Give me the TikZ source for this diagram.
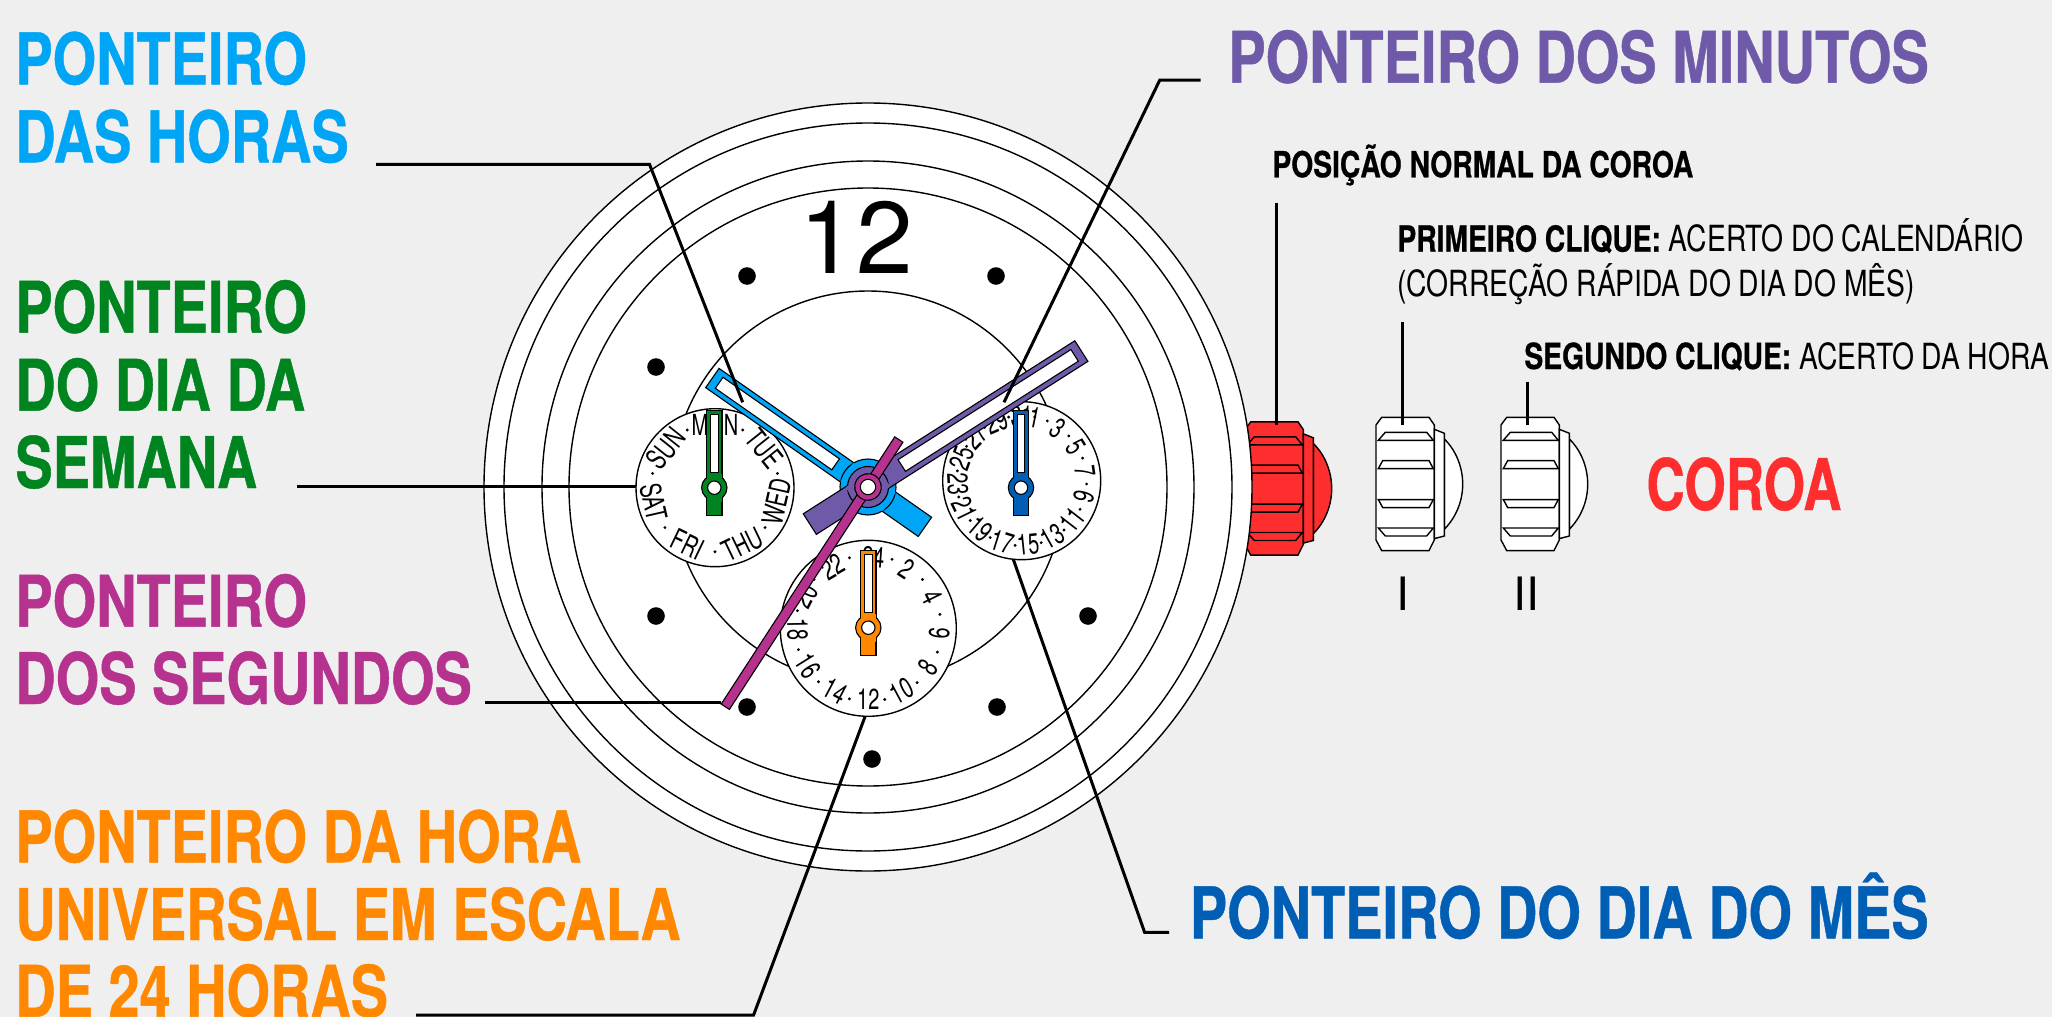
\documentclass[tikz,border=0pt]{standalone}
\usepackage{fontspec}
\setmainfont{TeX Gyre Heros}
\newfontfamily\narrowfont[FakeStretch=0.785]{TeX Gyre Heros}
\newfontfamily\titlefont[FakeStretch=0.785,FakeBold=0.6]{TeX Gyre Heros}
\newfontfamily\coroafont[FakeStretch=0.745,FakeBold=0.6]{TeX Gyre Heros}
\newfontfamily\dialfont[FakeStretch=0.69]{TeX Gyre Heros}
\usetikzlibrary{calc}
\definecolor{paper}{HTML}{EFEFEF}
\definecolor{hourblue}{HTML}{00A5F5}
\definecolor{minpurple}{HTML}{6E5AA8}
\definecolor{secmagenta}{HTML}{B5338F}
\definecolor{weekgreen}{HTML}{00841F}
\definecolor{utcorange}{HTML}{FF8800}
\definecolor{monthblue}{HTML}{005FB5}
\definecolor{crownred}{HTML}{FF2E2E}
\tikzset{
    thinline/.style={
    draw=black,line width=0.7pt
    },
    handline/.style={
    draw=black,line width=0.55pt
    },
    leader/.style={
    draw=black,line width=1.5pt
    },
    title/.style={
    inner sep=0pt,anchor=base west,font=\titlefont\bfseries\fontsize{35.6}{35.6}\selectfont
    },
    smalltext/.style={
    inner sep=0pt,anchor=base west,font=\narrowfont\fontsize{18}{18}\selectfont
    },
    dialnum/.style={
    inner sep=0pt,font=\dialfont\fontsize{14.5}{14.5}\selectfont
    },
    pics/crown/.style={
    code={
      \filldraw[thinline,fill=#1] (5.7,0) -- (53,0) -- (58.3,7.7) -- (58.3,122.7) -- (53,133.3)
         -- (5.7,133.3) -- (0,122.7) -- (0,7.7) -- cycle;
      \filldraw[thinline,fill=#1] (68.3,21.7) .. controls (80,33) and (86.7,50) .. (86.7,66.8)
         .. controls (86.7,84) and (80,100) .. (68.3,112) -- cycle;
      \filldraw[thinline,fill=#1] (58.3,12) -- (68.3,16) -- (68.3,118.7) -- (58.3,121.3) -- cycle;
      \draw[thinline] (2.3,23) -- (9.3,15) -- (50.7,15) -- (57.3,23) -- cycle;
      \draw[thinline] (2.3,51.3) -- (6.7,43.3) -- (53,43.3) -- (57.3,51.3) -- cycle;
      \draw[thinline] (2.3,82.3) -- (57.3,82.3) -- (53,90.3) -- (6.7,90.3) -- cycle;
      \draw[thinline] (2.3,110.7) -- (57.3,110.7) -- (50.7,118.7) -- (9.3,118.7) -- cycle;
    }
    },
}
% angle, node name, radius, text: upper half reads outwards, lower half inwards
\newcommand{\dialtext}[4]{
  \pgfmathsetmacro{\rot}{(#1>=90 && #1<270) ? 180-#1 : -#1}
  \node[dialnum,rotate=\rot] (#2) at ({#3*sin(#1)},{-#3*cos(#1)}) {#4};
}
\newcommand{\dialdot}[2]{
  \fill ({#2*sin(#1)},{-#2*cos(#1)}) circle (1.6);
}
\newcommand{\subhand}[2]{
  \begin{scope}[shift={#1}]
    \filldraw[handline,fill=#2] (-7.7,-77.4) rectangle (7.7,28);
    \filldraw[handline,fill=#2] (0,0) circle (12.7);
    \fill[#2] (-7.2,-14) rectangle (7.2,14);
    \filldraw[handline,fill=white] (-3.8,-73.3) rectangle (3.8,-15.3);
    \filldraw[handline,fill=white] (0,0) circle (6.7);
  \end{scope}
}
\begin{document}
\begin{tikzpicture}[x=0.5pt,y=-0.5pt]
  \useasboundingbox (0,0) rectangle (2052,1017);
  \fill[paper] (0,0) rectangle (2052,1017);

  % crowns
  \pic (crownnormal) at (1245,421.8) {crown=crownred};
  \pic (crownone) at (1376,417.3) {crown=white};
  \pic (crowntwo) at (1501,417.3) {crown=white};

  % case and dial
  \foreach \r in {384,364,326,299,196}
    \filldraw[thinline,fill=white] (868,487) circle (\r);
  \foreach \p in {(747,276),(996,276),(656,367),(656,616),(747,707),(997,707),(1088,616),(872,759)}
    \fill \p circle (8.8);
  \node[inner sep=0pt,anchor=base,font=\fontsize{51}{51}\selectfont] (twelve) at (856,273) {12};

  % week dial
  \filldraw[thinline,fill=white] (715,487.7) circle (79);
  \begin{scope}[shift={(715,487.7)}]
    \foreach \i/\d in {0/MON,1/TUE,2/WED,3/THU,4/FRI,5/SAT,6/SUN}{
      \pgfmathsetmacro{\a}{\i*360/7}
      \dialtext{\a}{day\d}{63}{\d}
      \dialdot{\a+180/7}{64}
    }
  \end{scope}

  % month dial
  \filldraw[thinline,fill=white] (1021.7,480.7) circle (79);
  \begin{scope}[shift={(1021.7,480.7)}]
    \foreach \n in {1,3,...,31}{
      \pgfmathsetmacro{\a}{mod(\n*360/31,360)}
      \dialtext{\a}{month\n}{64}{\n}
      \dialdot{(\n+1)*360/31}{65}
    }
  \end{scope}

  % 24 hour dial
  \filldraw[thinline,fill=white] (868.3,628.3) circle (88);
  \begin{scope}[shift={(868.3,628.3)}]
    \foreach \n/\a in {2/33,4/64,6/94,8/123,10/152,12/180,14/208,16/238,18/269,20/297,22/330,24/4}{
      \dialtext{\a}{utc\n}{71}{\n}
      \dialdot{\a+15}{73}
    }
  \end{scope}

  \subhand{(714.3,487.7)}{weekgreen}
  \subhand{(1021,487.7)}{monthblue}
  \subhand{(868.3,627.7)}{utcorange}

  % hour hand
  \begin{scope}[shift={(868,487)},rotate=145]
    \filldraw[handline,fill=hourblue] (-69.5,-11.7) rectangle (190,11.7);
    \filldraw[handline,fill=hourblue] (0,0) circle (28);
    \fill[hourblue] (-26,-11.2) rectangle (26,11.2);
    \filldraw[handline,fill=white] (39.5,-6.7) rectangle (181.7,6.7);
  \end{scope}
  % minute hand
  \begin{scope}[shift={(868,487)},rotate=32.5]
    \filldraw[handline,fill=minpurple] (-69,-12.2) rectangle (253,12.2);
    \filldraw[handline,fill=minpurple] (0,0) circle (20.5);
    \fill[minpurple] (-19,-11.7) rectangle (19,11.7);
    \filldraw[handline,fill=white] (40,-6.9) rectangle (245,6.9);
  \end{scope}
  % second hand
  \begin{scope}[shift={(868,487)},rotate=57]
    \filldraw[handline,fill=secmagenta] (-262,-4.9) rectangle (56.6,4.9);
    \filldraw[handline,fill=secmagenta] (0,0) circle (13.3);
    \fill[secmagenta] (-12,-4.4) rectangle (12,4.4);
    \filldraw[handline,fill=white] (0,0) circle (7.7);
  \end{scope}

  % labels
  \node[title,text=hourblue] (hourA) at (15,84.3) {PONTEIRO};
  \node[title,text=hourblue] (hourB) at (15,162.3) {DAS HORAS};
  \node[title,text=weekgreen] (weekA) at (15,332.7) {PONTEIRO};
  \node[title,text=weekgreen] (weekB) at (15,410.7) {DO DIA DA};
  \node[title,text=weekgreen] (weekC) at (15,488) {SEMANA};
  \node[title,text=secmagenta] (secA) at (15,626.7) {PONTEIRO};
  \node[title,text=secmagenta] (secB) at (15,704) {DOS SEGUNDOS};
  \node[title,text=utcorange] (utcA) at (15,862.3) {PONTEIRO DA HORA};
  \node[title,text=utcorange] (utcB) at (15,940) {UNIVERSAL EM ESCALA};
  \node[title,text=utcorange] (utcC) at (15,1016.7) {DE 24 HORAS};
  \node[title,text=minpurple] (minA) at (1228,82.7) {PONTEIRO DOS MINUTOS};
  \node[title,text=monthblue] (monthA) at (1189.5,938.3) {PONTEIRO DO DIA DO MÊS};
  \node[title,font=\coroafont\bfseries\fontsize{35.6}{35.6}\selectfont,text=crownred] (coroa) at (1646,510) {COROA};

  \node[smalltext] (posnormal) at (1272,177.3) {\titlefont\bfseries POSIÇÃO NORMAL DA COROA};
  \node[smalltext] (firstA) at (1397,251.7) {{\titlefont\bfseries PRIMEIRO CLIQUE:} ACERTO DO CALENDÁRIO};
  \node[smalltext] (firstB) at (1397,296.7) {(CORREÇÃO RÁPIDA DO DIA DO MÊS)};
  \node[smalltext] (secondA) at (1524,369) {{\titlefont\bfseries SEGUNDO CLIQUE:} ACERTO DA HORA};
  \node[inner sep=0pt,anchor=base,font=\fontsize{23}{23}\selectfont] (posone) at (1403.3,610.7) {I};
  \node[inner sep=0pt,anchor=base,font=\fontsize{23}{23}\selectfont] (postwo) at (1526.7,610.7) {II};

  % leaders
  \coordinate (hourstart) at (376,164.3);
  \coordinate (hourknee) at (649.5,164.3);
  \coordinate (hourend) at (742.7,402.3);
  \draw[leader] (hourstart) -- (hourknee) -- (hourend);
  \coordinate (weekstart) at (297,486.7);
  \coordinate (weekend) at (636,486.7);
  \draw[leader] (weekstart) -- (weekend);
  \coordinate (secstart) at (485,702.7);
  \coordinate (secend) at (721,702.7);
  \draw[leader] (secstart) -- (secend);
  \coordinate (utcstart) at (416,1015);
  \coordinate (utcknee) at (753.6,1015);
  \coordinate (utcend) at (865,716.7);
  \draw[leader] (utcstart) -- (utcknee) -- (utcend);
  \coordinate (minstart) at (1200.6,80);
  \coordinate (minknee) at (1159.8,80);
  \coordinate (minend) at (1004,402.3);
  \draw[leader] (minstart) -- (minknee) -- (minend);
  \coordinate (monthstart) at (1169,932.3);
  \coordinate (monthknee) at (1144.6,932.3);
  \coordinate (monthend) at (1013.3,559.3);
  \draw[leader] (monthstart) -- (monthknee) -- (monthend);
  \coordinate (normaltop) at (1276.7,202.7);
  \coordinate (normalend) at (1276.7,425);
  \draw[leader] (normaltop) -- (normalend);
  \coordinate (onetop) at (1402.3,322.3);
  \coordinate (oneend) at (1402.3,425);
  \draw[leader] (onetop) -- (oneend);
  \coordinate (twotop) at (1527.3,381.7);
  \coordinate (twoend) at (1527.3,425);
  \draw[leader] (twotop) -- (twoend);
\end{tikzpicture}
\end{document}
